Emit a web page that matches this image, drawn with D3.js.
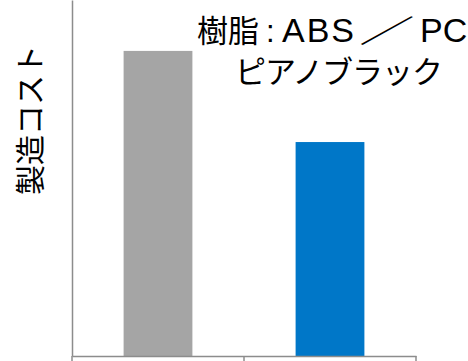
<!DOCTYPE html>
<html>
<head>
<meta charset="utf-8">
<script src="https://cdn.jsdelivr.net/npm/d3@7"></script>
<style>
  body { margin: 0; background: #fff; }
  text { font-family: "Liberation Sans", "Noto Sans CJK JP", sans-serif; }
</style>
</head>
<body>
<div id="chart"></div>
<script>
// values (cost index, no axis scale shown)
var categories = ['従来品', '新工法'];
var costs = [85.7, 60.1];
var barColors = ['#a5a5a5', '#0077c8'];
var titleParts = ['樹脂', ':', 'ABS', 'PC'];
var titleSlash = '／';
var titleLine2 = 'ピアノブラック';
var yLabel = '製造コスト';

const W = 468, H = 361;
const margin = {top: 0, left: 72, right: 52, bottom: 5};
const plotW = W - margin.left - margin.right,
      plotH = H - margin.top - margin.bottom;

const svg = d3.select('#chart')
  .append('svg')
    .attr('width', W)
    .attr('height', H);

const g = svg.append('g')
  .attr('transform', `translate(${margin.left},${margin.top})`);

const x = d3.scaleBand()
  .domain(categories)
  .range([0, plotW])
  .padding(0);

const y = d3.scaleLinear()
  .domain([0, 100])
  .range([plotH, 0]);

const barW = x.bandwidth() * 0.4;

// bars
g.selectAll('rect.bar')
  .data(categories)
  .join('rect')
    .attr('class', 'bar')
    .attr('x', d => x(d) + (x.bandwidth() - barW) / 2)
    .attr('y', (d, i) => y(costs[i]))
    .attr('width', barW)
    .attr('height', (d, i) => plotH - y(costs[i]))
    .attr('fill', (d, i) => barColors[i]);

// y axis: plain line, no ticks
const yAxis = g.append('g')
  .call(d3.axisLeft(y).tickValues([]).tickSizeOuter(0));
yAxis.select('.domain').attr('stroke', '#8c8c8c').attr('stroke-width', 1.5);

// x axis: tick marks at band boundaries
const xAxis = g.append('g')
  .attr('transform', `translate(0,${plotH})`)
  .call(d3.axisBottom(x).tickValues([]).tickSizeOuter(0));
xAxis.select('.domain').attr('stroke', '#8c8c8c').attr('stroke-width', 1.5);

const edges = [0, x(categories[1]), plotW];
xAxis.selectAll('line.edge')
  .data(edges)
  .join('line')
    .attr('class', 'edge')
    .attr('x1', d => d).attr('x2', d => d)
    .attr('y1', 0).attr('y2', 8)
    .attr('stroke', '#8c8c8c')
    .attr('stroke-width', 1.5);

// title line 1, pieces placed one by one
const partX = [197, 266, 282, 420];
const partSize = [31, 31, 34, 34];
const t1 = svg.append('text')
  .attr('y', 42)
  .attr('fill', '#000');
t1.selectAll('tspan')
  .data(titleParts)
  .join('tspan')
    .attr('x', (d, i) => partX[i])
    .attr('font-size', (d, i) => partSize[i])
    .attr('letter-spacing', (d, i) => i == 2 ? 2 : 0)
    .text(d => d);

// the wide full-width slash, stretched sideways
svg.append('text')
  .attr('transform', 'translate(359,42) scale(1.8,1)')
  .attr('font-size', 31)
  .attr('fill', '#000')
  .text(titleSlash);

// title line 2
svg.append('text')
  .attr('x', 235)
  .attr('y', 83)
  .attr('textLength', 208)
  .attr('lengthAdjust', 'spacing')
  .attr('font-size', 31)
  .attr('fill', '#000')
  .text(titleLine2);

// y label
svg.append('text')
  .attr('transform', 'translate(41,120) rotate(-90)')
  .attr('text-anchor', 'middle')
  .attr('font-size', 30)
  .attr('fill', '#000')
  .text(yLabel);
</script>
</body>
</html>
